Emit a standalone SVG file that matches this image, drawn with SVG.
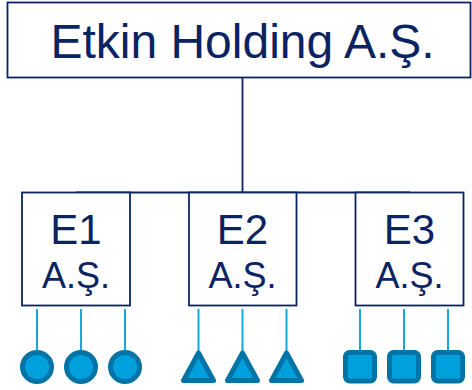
<svg xmlns="http://www.w3.org/2000/svg" width="472" height="390" viewBox="0 0 472 390">
<defs>
<style>
.box{fill:#fff;stroke:#0a2463;stroke-width:1.8}
.t{font-family:"Liberation Sans",Arial,sans-serif;fill:#0a2463;text-anchor:middle}
.conn{stroke:#0a2463;stroke-width:1.8;fill:none}
.lnk{stroke:#16a6e0;stroke-width:2;fill:none}
.sh{fill:#00a0dc;stroke:#0074a6;stroke-width:5;stroke-linejoin:round}
</style>
</defs>
<rect width="472" height="390" fill="#fff"/>
<g id="connectors">
<path class="conn" d="M242.5 77.5V192.5M76 192.5H410"/>
<path class="lnk" d="M37 309V352M81 309V352M125 309V352M198.5 309V352M242.5 309V352M286.5 309V352M360 309V352M404 309V352M448 309V352"/>
</g>
<g id="holding">
<rect class="box" x="7.5" y="2.5" width="463" height="75"/>
<text class="t" x="242.5" y="57.5" font-size="48">Etkin Holding A.Ş.</text>
</g>
<g id="e1">
<rect class="box" x="22" y="192.5" width="108" height="113"/>
<text class="t" x="76" y="243.5" font-size="42">E1</text>
<text class="t" x="76" y="287.5" font-size="36">A.Ş.</text>
</g>
<g id="e2">
<rect class="box" x="189" y="192.5" width="107.5" height="113"/>
<text class="t" x="242.5" y="243.5" font-size="42">E2</text>
<text class="t" x="242.5" y="287.5" font-size="36">A.Ş.</text>
</g>
<g id="e3">
<rect class="box" x="355.5" y="192.5" width="108" height="113"/>
<text class="t" x="409.5" y="243.5" font-size="42">E3</text>
<text class="t" x="409.5" y="287.5" font-size="36">A.Ş.</text>
</g>
<g id="circles">
<circle class="sh" cx="37" cy="367" r="14.5"/>
<circle class="sh" cx="81" cy="367" r="14.5"/>
<circle class="sh" cx="125" cy="367" r="14.5"/>
</g>
<g id="triangles">
<polygon class="sh" points="198.5,353 213.5,380.5 183.5,380.5"/>
<polygon class="sh" points="242.5,353 257.5,380.5 227.5,380.5"/>
<polygon class="sh" points="286.5,353 301.5,380.5 271.5,380.5"/>
</g>
<g id="squares">
<rect class="sh" x="345.5" y="352.5" width="29" height="28.5" rx="4"/>
<rect class="sh" x="389.5" y="352.5" width="29" height="28.5" rx="4"/>
<rect class="sh" x="433.5" y="352.5" width="29" height="28.5" rx="4"/>
</g>
</svg>
